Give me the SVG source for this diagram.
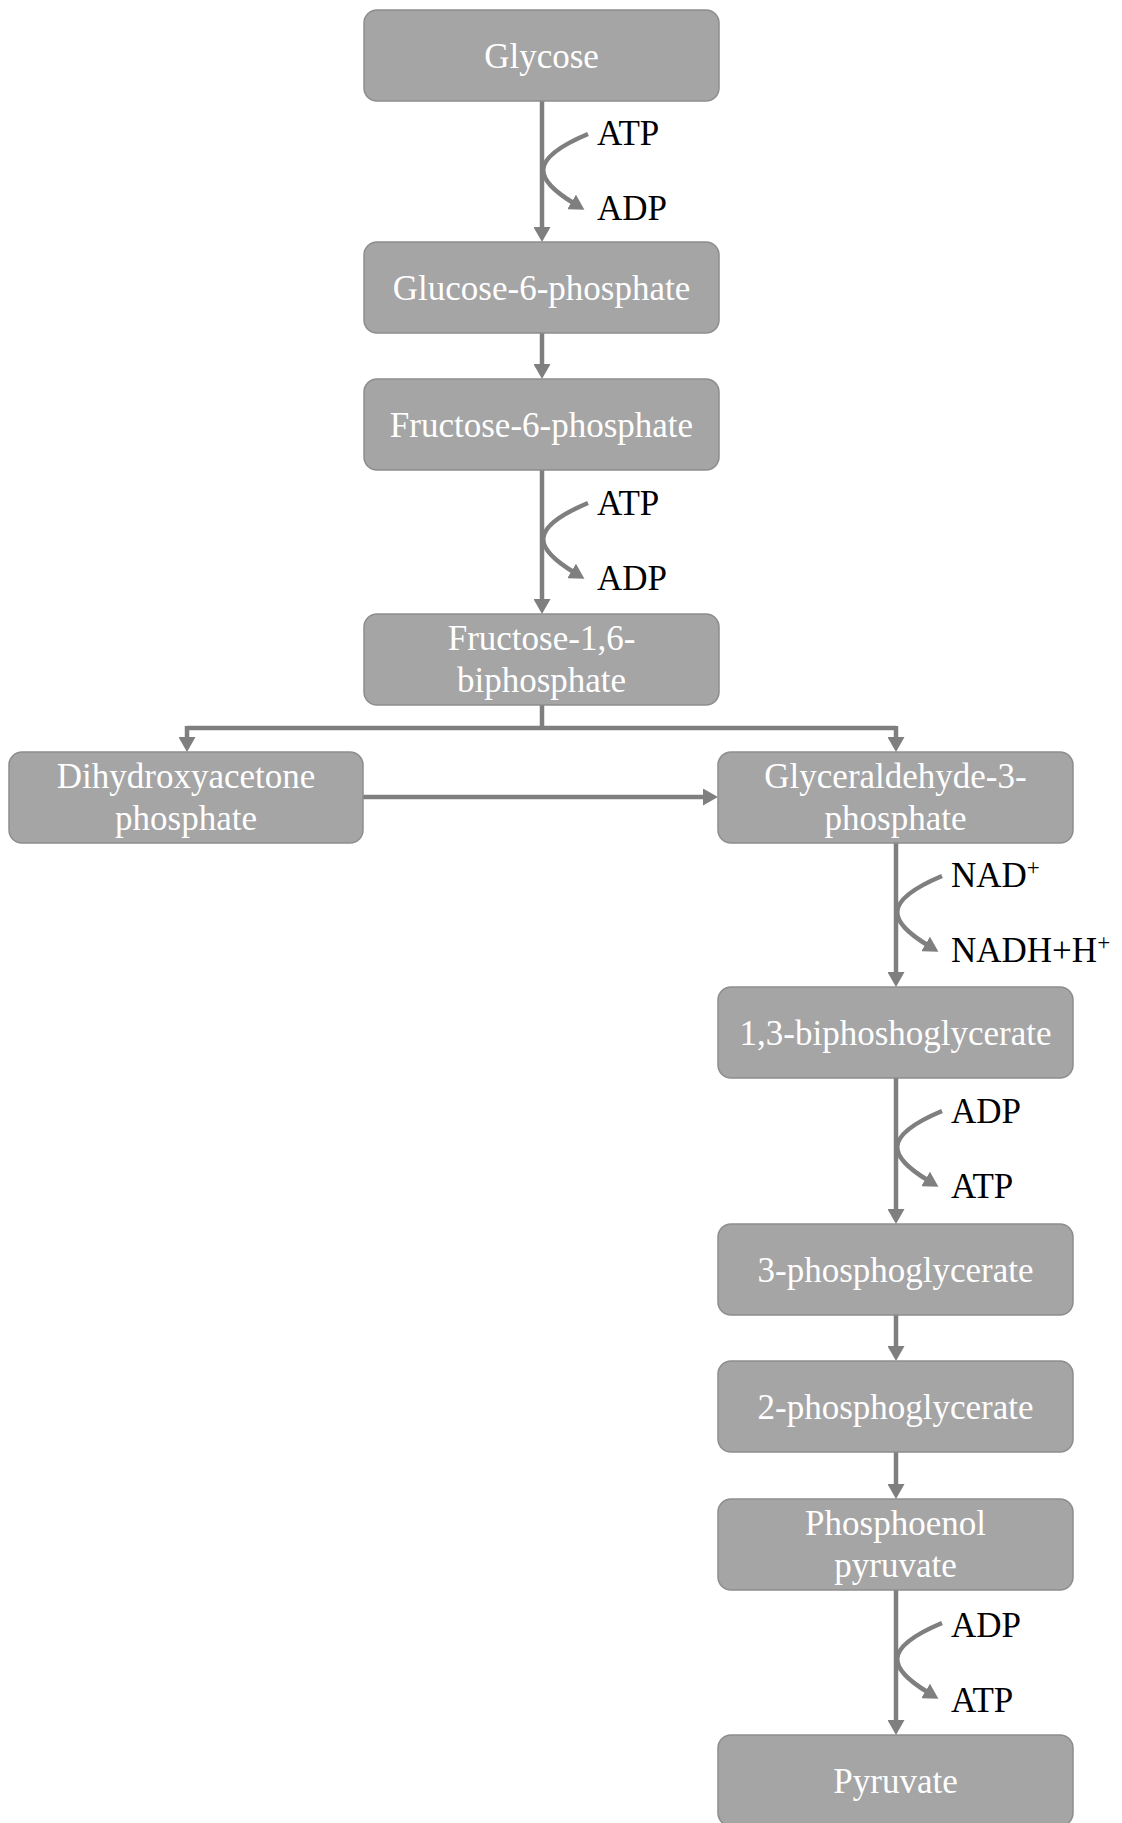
<svg xmlns="http://www.w3.org/2000/svg" width="1122" height="1823" viewBox="0 0 1122 1823">
<defs>
<style>
.box{fill:#a5a5a5;stroke:#8d8d8d;stroke-width:1.5}
.bt{font-family:"Liberation Serif","Times New Roman",serif;font-size:35px;fill:#ffffff;text-anchor:middle}
.lb{font-family:"Liberation Serif","Times New Roman",serif;font-size:35px;fill:#000000}
.sup{font-size:23px}
.ln{fill:none;stroke:#7f7f7f;stroke-width:4.5;marker-end:url(#ah)}
.pl{fill:none;stroke:#7f7f7f;stroke-width:4.5}
</style>
<marker id="ah" viewBox="0 0 15 17" refX="4" refY="8.5" markerWidth="15" markerHeight="17" markerUnits="userSpaceOnUse" orient="auto">
<path d="M0,0 L15,8.5 L0,17 z" fill="#7f7f7f"/>
</marker>
</defs>
<g id="connectors">
<line class="ln" x1="542" y1="101" x2="542" y2="231"/>
<path class="ln" d="M588,134 C526,160 535,180 575,204"/>
<line class="ln" x1="542" y1="333" x2="542" y2="368"/>
<line class="ln" x1="542" y1="470" x2="542" y2="603"/>
<path class="ln" d="M588,503 C526,529 535,549 575,573"/>
<polyline class="pl" points="542,705 542,728"/>
<polyline class="pl" points="187,728 896,728"/>
<line class="ln" x1="187" y1="726" x2="187" y2="741"/>
<line class="ln" x1="896" y1="726" x2="896" y2="741"/>
<line class="ln" x1="363" y1="797" x2="707" y2="797"/>
<line class="ln" x1="896" y1="843" x2="896" y2="976"/>
<path class="ln" d="M942,876 C880,902 889,922 929,946"/>
<line class="ln" x1="896" y1="1078" x2="896" y2="1213"/>
<path class="ln" d="M942,1111 C880,1137 889,1157 929,1181"/>
<line class="ln" x1="896" y1="1315" x2="896" y2="1350"/>
<line class="ln" x1="896" y1="1452" x2="896" y2="1488"/>
<line class="ln" x1="896" y1="1590" x2="896" y2="1724"/>
<path class="ln" d="M942,1623 C880,1649 889,1669 929,1693"/>
</g>
<g id="labels">
<text class="lb" x="597" y="145">ATP</text>
<text class="lb" x="597" y="220">ADP</text>
<text class="lb" x="597" y="515">ATP</text>
<text class="lb" x="597" y="590">ADP</text>
<text class="lb" x="951" y="887">NAD<tspan class="sup" dy="-12">+</tspan></text>
<text class="lb" x="951" y="962">NADH+H<tspan class="sup" dy="-12">+</tspan></text>
<text class="lb" x="951" y="1123">ADP</text>
<text class="lb" x="951" y="1198">ATP</text>
<text class="lb" x="951" y="1637">ADP</text>
<text class="lb" x="951" y="1712">ATP</text>
</g>
<g id="n-glycose"><rect class="box" x="364" y="10" width="355" height="91" rx="13"/><text class="bt" x="541.5" y="68">Glycose</text></g>
<g id="n-g6p"><rect class="box" x="364" y="242" width="355" height="91" rx="13"/><text class="bt" x="541.5" y="300">Glucose-6-phosphate</text></g>
<g id="n-f6p"><rect class="box" x="364" y="379" width="355" height="91" rx="13"/><text class="bt" x="541.5" y="437">Fructose-6-phosphate</text></g>
<g id="n-f16bp"><rect class="box" x="364" y="614" width="355" height="91" rx="13"/><text class="bt" x="541.5" y="650">Fructose-1,6-</text><text class="bt" x="541.5" y="692">biphosphate</text></g>
<g id="n-dhap"><rect class="box" x="9" y="752" width="354" height="91" rx="13"/><text class="bt" x="186" y="788">Dihydroxyacetone</text><text class="bt" x="186" y="830">phosphate</text></g>
<g id="n-g3p"><rect class="box" x="718" y="752" width="355" height="91" rx="13"/><text class="bt" x="895.5" y="788">Glyceraldehyde-3-</text><text class="bt" x="895.5" y="830">phosphate</text></g>
<g id="n-13bpg"><rect class="box" x="718" y="987" width="355" height="91" rx="13"/><text class="bt" x="895.5" y="1045">1,3-biphoshoglycerate</text></g>
<g id="n-3pg"><rect class="box" x="718" y="1224" width="355" height="91" rx="13"/><text class="bt" x="895.5" y="1282">3-phosphoglycerate</text></g>
<g id="n-2pg"><rect class="box" x="718" y="1361" width="355" height="91" rx="13"/><text class="bt" x="895.5" y="1419">2-phosphoglycerate</text></g>
<g id="n-pep"><rect class="box" x="718" y="1499" width="355" height="91" rx="13"/><text class="bt" x="895.5" y="1535">Phosphoenol</text><text class="bt" x="895.5" y="1577">pyruvate</text></g>
<g id="n-pyruvate"><rect class="box" x="718" y="1735" width="355" height="91" rx="13"/><text class="bt" x="895.5" y="1793">Pyruvate</text></g>
</svg>
